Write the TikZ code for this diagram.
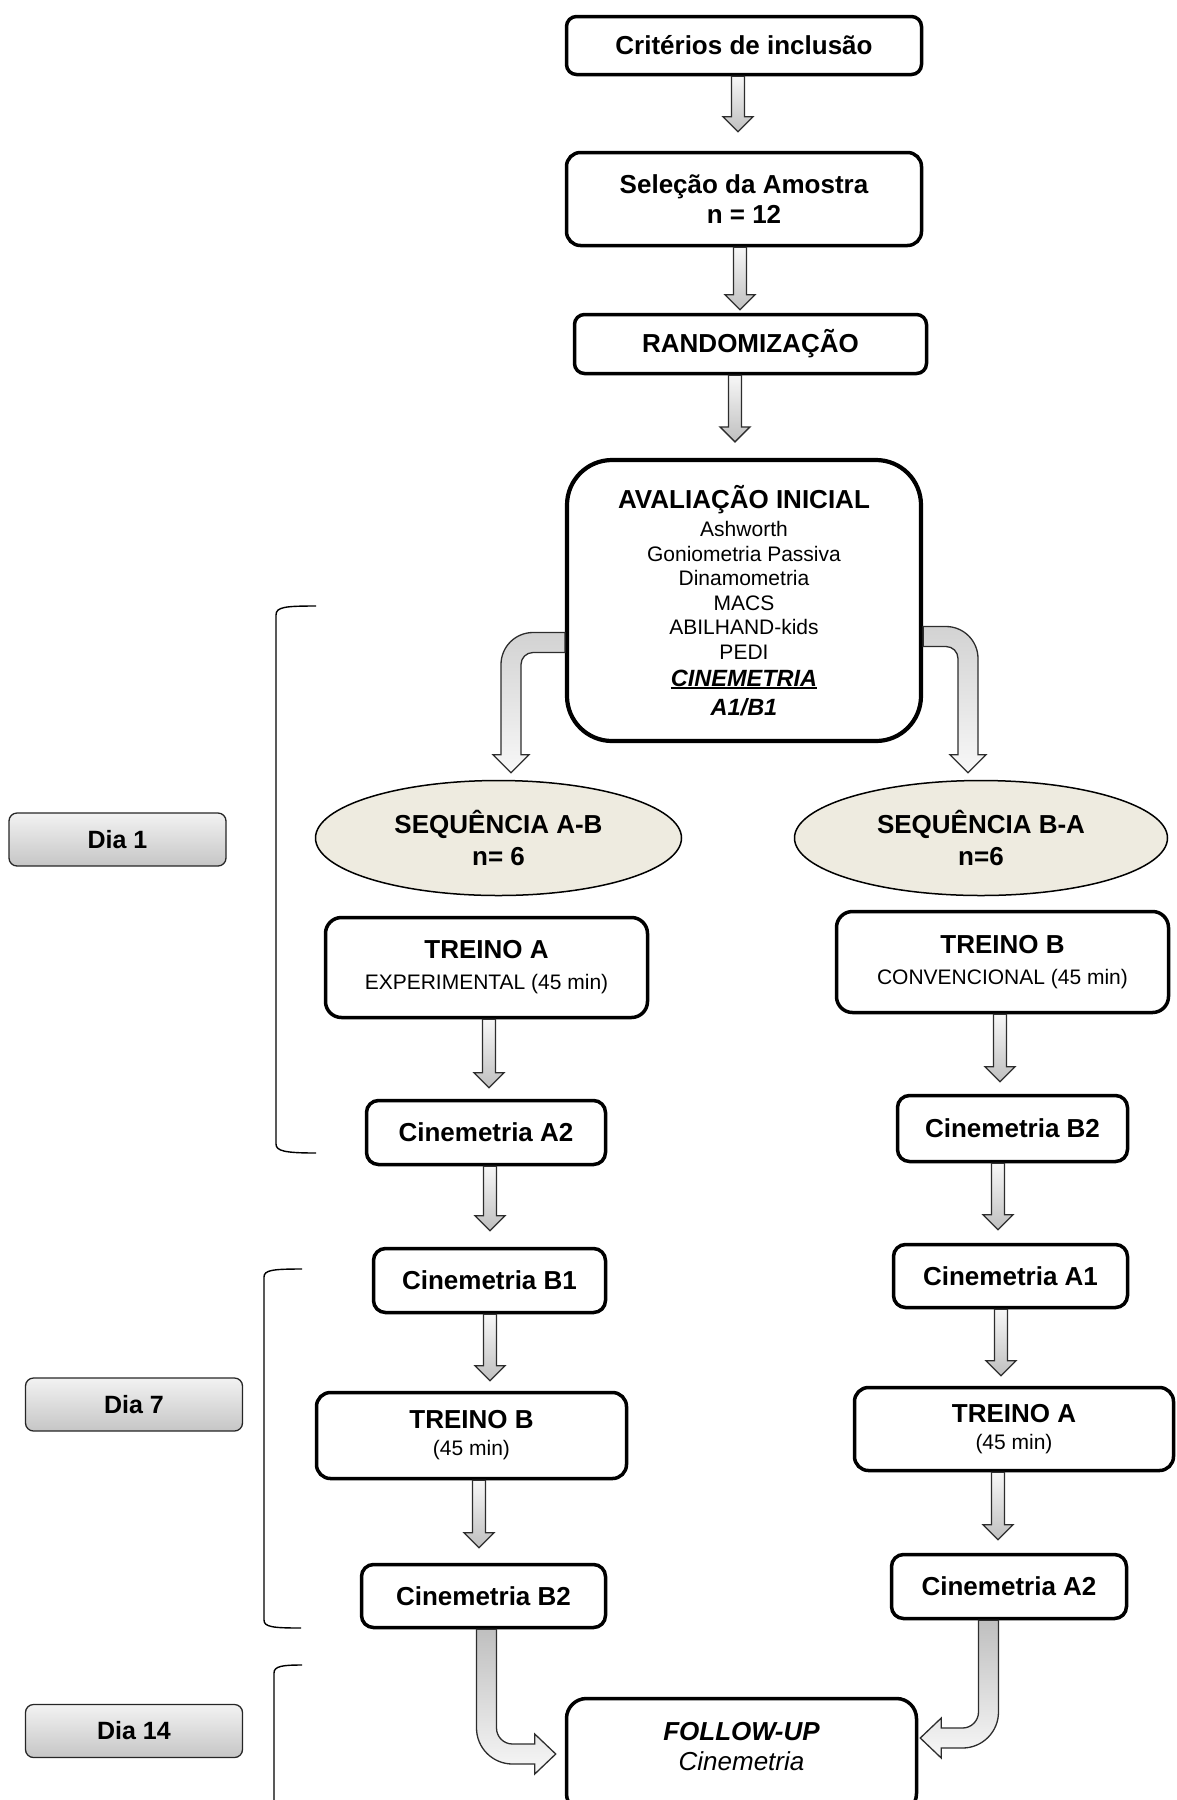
\documentclass[tikz,border=0pt]{standalone}
\usepackage{fontspec}
\setmainfont{Liberation Sans}
\usetikzlibrary{shapes.geometric,calc}
\definecolor{ellfill}{RGB}{238,235,224}
\definecolor{arrline}{RGB}{45,45,45}
\newcommand\thickul[1]{\setbox0\hbox{#1}\rlap{\rule[-3.2pt]{\wd0}{2.4pt}}\box0}
\tikzset{
  box/.style={draw=black, line width=3.5pt, fill=white, rounded corners=12pt, align=center, inner sep=0pt,
    font=\fontsize{26}{30}\selectfont\bfseries},
  seq/.style={ellipse, draw=black, line width=1.5pt, fill=ellfill, align=center, inner sep=0pt,
    font=\fontsize{26}{32}\selectfont\bfseries},
  dia/.style={draw=black!85, line width=1.3pt, rounded corners=8pt, top color=gray!10, bottom color=gray!45,
    minimum width=217pt, minimum height=53pt, inner sep=0pt, font=\fontsize{25}{30}\selectfont\bfseries},
  arr/.style={draw=arrline, line width=1.3pt, top color=gray!6, bottom color=gray!50},
  bentarr/.style={draw=arrline, line width=1.3pt, top color=gray!50, bottom color=gray!6},
  curvarr/.style={draw=arrline, line width=1.3pt, top color=gray!35, bottom color=gray!6},
  brk/.style={draw=black, line width=1.4pt},
  small/.style={}
}
% straight down arrow: from, to, x offset, gap before target
\newcommand\dnarrow[4]{%
  \draw[arr] let \p1=($(#1.south)+(#3,0)$), \p2=(#2.north) in
   (\x1-6.5pt,\y1) -- (\x1+6.5pt,\y1) -- (\x1+6.5pt,\y2+#4pt+15pt) -- (\x1+15pt,\y2+#4pt+15pt)
   -- (\x1,\y2+#4pt) -- (\x1-15pt,\y2+#4pt+15pt) -- (\x1-6.5pt,\y2+#4pt+15pt) -- cycle;}
\begin{document}
\begin{tikzpicture}[x=1pt,y=-1pt]
\path[use as bounding box] (0,0) rectangle (1176,1800);
\clip (0,0) rectangle (1176,1800);

% boxes
\node[box, rounded corners=10pt, minimum width=355pt, minimum height=58pt] (crit) at (744,45.5) {Critérios de inclusão};
\node[box, rounded corners=14pt, minimum width=355pt, minimum height=93pt] (sel) at (744,199) {Seleção da Amostra\\n = 12};
\node[box, rounded corners=10pt, minimum width=352pt, minimum height=59pt] (rand) at (750.5,344) {RANDOMIZAÇÃO};
\node[box, line width=4.2pt, rounded corners=45pt, minimum width=354pt, minimum height=281pt,
      font=\fontsize{21}{24.5}\selectfont] (aval) at (744,600.5)
  {{\fontsize{26}{24.5}\selectfont\bfseries AVALIAÇÃO INICIAL}\\[3.7pt]
   Ashworth\\ Goniometria Passiva\\ Dinamometria\\ MACS\\ ABILHAND-kids\\ PEDI\\[2.5pt]
   {\fontsize{23.5}{24.5}\selectfont\bfseries\itshape\thickul{CINEMETRIA}}\\[4.5pt]
   {\fontsize{23.5}{24.5}\selectfont\bfseries\itshape A1/B1}};

\node[seq, minimum width=366pt, minimum height=115pt] (seqab) at (498.5,838) {SEQUÊNCIA A-B\\n= 6};
\node[seq, minimum width=373pt, minimum height=115pt] (seqba) at (981,838) {SEQUÊNCIA B-A\\n=6};

\node[box, rounded corners=16pt, minimum width=322pt, minimum height=100pt] (trAL) at (486.5,967.5)
  {TREINO A\\[1pt]{\fontsize{21}{30}\selectfont\mdseries EXPERIMENTAL (45 min)}};
\node[box, rounded corners=16pt, minimum width=332pt, minimum height=101pt] (trBR) at (1002.5,962)
  {TREINO B\\[1pt]{\fontsize{21}{30}\selectfont\mdseries CONVENCIONAL (45 min)}};

\node[box, minimum width=239pt, minimum height=64pt] (cA2L) at (486,1132.5) {Cinemetria A2};
\node[box, minimum width=230pt, minimum height=66pt] (cB2R) at (1012.5,1128.5) {Cinemetria B2};
\node[box, minimum width=232pt, minimum height=64pt] (cB1L) at (489.5,1280.5) {Cinemetria B1};
\node[box, minimum width=234pt, minimum height=63pt] (cA1R) at (1010.5,1276) {Cinemetria A1};

\node[box, rounded corners=14pt, minimum width=310pt, minimum height=86pt] (trBL) at (471.5,1435.5)
  {TREINO B\\[-3pt]{\fontsize{21}{30}\selectfont\mdseries (45 min)}};
\node[box, rounded corners=14pt, minimum width=319pt, minimum height=83pt] (trAR) at (1014,1429)
  {TREINO A\\[-3pt]{\fontsize{21}{30}\selectfont\mdseries (45 min)}};

\node[box, minimum width=244pt, minimum height=63pt] (cB2L) at (483.5,1596) {Cinemetria B2};
\node[box, minimum width=235pt, minimum height=64pt] (cA2R) at (1009,1586.5) {Cinemetria A2};

\node[box, rounded corners=20pt, minimum width=350pt, minimum height=115pt] (fu) at (741.5,1756) {};
\node[align=center, inner sep=0pt, font=\fontsize{26}{30}\selectfont] (futxt) at ($(fu.center)+(0,-9)$)
  {{\bfseries\itshape FOLLOW-UP}\\{\itshape Cinemetria}};

% day labels
\node[dia] (dia1) at (117.5,839.5) {Dia 1};
\node[dia] (dia7) at (134,1404.5) {Dia 7};
\node[dia] (dia14) at (134,1731) {Dia 14};

% brackets
\draw[brk] (316,606) .. controls (285,606) and (276,607) .. (276,615) -- (276,1144)
  .. controls (276,1151) and (285,1153) .. (316,1153);
\draw[brk] (302,1269) .. controls (273,1269) and (264,1270) .. (264,1277) -- (264,1620)
  .. controls (264,1627) and (273,1628) .. (301,1628);
\draw[brk] (302,1665) .. controls (283,1665) and (274,1666) .. (274,1673) -- (274,1810);

% straight arrows
\dnarrow{crit}{sel}{-6}{19}
\dnarrow{sel}{rand}{-4}{3}
\dnarrow{rand}{aval}{-15.5}{16}
\dnarrow{trAL}{cA2L}{2.5}{11}
\dnarrow{cA2L}{cB1L}{4}{16}
\dnarrow{cB1L}{trBL}{0.5}{10}
\dnarrow{trBL}{cB2L}{7.5}{15}
\dnarrow{trBR}{cB2R}{-2.5}{12}
\dnarrow{cB2R}{cA1R}{-14.5}{13}
\dnarrow{cA1R}{trAR}{-9.5}{10}
\dnarrow{trAR}{cA2R}{-16}{13}

% curved arrows from evaluation to sequences
\draw[curvarr] let \p1=($(aval.west)+(0,42)$), \p2=($(seqab.north)+(12.5,-7)$) in
  (\x1,\y1+10pt) -- (\x2+22pt,\y1+10pt) arc[start angle=90,end angle=180,radius=32pt]
  -- (\x2-10pt,\y2+18pt) -- (\x2-18pt,\y2+18pt) -- (\x2,\y2) -- (\x2+18pt,\y2+18pt)
  -- (\x2+10pt,\y2+18pt) -- (\x2+10pt,\y1-22pt) arc[start angle=180,end angle=90,radius=12pt]
  -- (\x1,\y1-10pt) -- cycle;
\draw[curvarr] let \p1=($(aval.east)+(0,36)$), \p2=($(seqba.north)+(-13,-7)$) in
  (\x1,\y1+10pt) -- (\x2-22pt,\y1+10pt) arc[start angle=90,end angle=0,radius=32pt]
  -- (\x2+10pt,\y2+18pt) -- (\x2+18pt,\y2+18pt) -- (\x2,\y2) -- (\x2-18pt,\y2+18pt)
  -- (\x2-10pt,\y2+18pt) -- (\x2-10pt,\y1-22pt) arc[start angle=0,end angle=90,radius=12pt]
  -- (\x1,\y1-10pt) -- cycle;

% bent arrows into follow-up
\draw[bentarr] let \p1=($(cB2L.south)+(3,0)$), \p2=($(fu.west)+(-9,-2)$) in
  (\x1-10pt,\y1) -- (\x1-10pt,\y2+26pt) arc[start angle=180,end angle=270,radius=36pt]
  -- (\x2-21pt,\y2-10pt) -- (\x2-21pt,\y2-20pt) -- (\x2,\y2) -- (\x2-21pt,\y2+20pt)
  -- (\x2-21pt,\y2+10pt) -- (\x1+26pt,\y2+10pt) arc[start angle=270,end angle=180,radius=16pt]
  -- (\x1+10pt,\y1) -- cycle;
\draw[bentarr] let \p1=($(cA2R.south)+(-20.5,0)$), \p2=($(fu.east)+(2,-18)$) in
  (\x1+10pt,\y1) -- (\x1+10pt,\y2+26pt) arc[start angle=0,end angle=-90,radius=36pt]
  -- (\x2+21pt,\y2-10pt) -- (\x2+21pt,\y2-20pt) -- (\x2,\y2) -- (\x2+21pt,\y2+20pt)
  -- (\x2+21pt,\y2+10pt) -- (\x1-26pt,\y2+10pt) arc[start angle=-90,end angle=0,radius=16pt]
  -- (\x1-10pt,\y1) -- cycle;
\end{tikzpicture}
\end{document}
